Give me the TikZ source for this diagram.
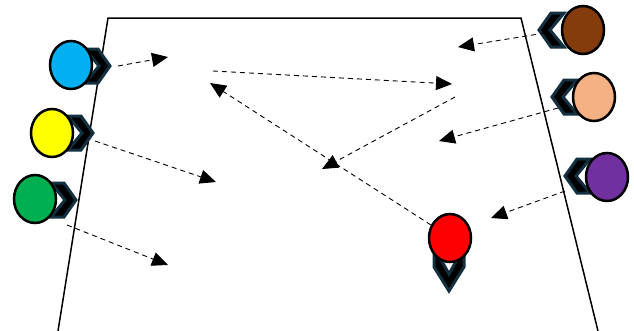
\documentclass[tikz,border=0pt]{standalone}
\usetikzlibrary{shapes.geometric,arrows.meta}
\definecolor{chevc}{HTML}{12303F}
\definecolor{pblue}{HTML}{00B0F0}
\definecolor{pyellow}{HTML}{FFFF00}
\definecolor{pgreen}{HTML}{00B050}
\definecolor{pbrown}{HTML}{843C0C}
\definecolor{psalmon}{HTML}{F4B183}
\definecolor{ppurple}{HTML}{7030A0}
\definecolor{pred}{HTML}{FF0000}
\begin{document}
\begin{tikzpicture}[x=1pt,y=-1pt,
  player/.style={ellipse, draw=black, line width=2.5pt, minimum width=42pt, minimum height=48pt, inner sep=0pt},
  run/.style={dashed, dash pattern=on 5pt off 4pt, line width=0.9pt, -{Triangle[length=16pt,width=14pt]}},
  chev/.pic={\draw[draw=chevc, line width=3pt, fill=black, line join=miter] (-25,-17) -- (-12,-17) -- (0,0) -- (-12,17) -- (-25,17) -- (-11,0) -- cycle;},
  chevlong/.pic={\draw[draw=chevc, line width=3pt, fill=black, line join=miter] (-44,-15) -- (-24,-15) -- (0,0) -- (-24,15) -- (-44,15) -- (-17,0) -- cycle;}]
\useasboundingbox (0,0) rectangle (634,330);
\draw[line width=1.5pt] (58,331) -- (108,18) -- (521,18) -- (598,331);
% chevrons
\pic at (110,66) {chev};
\pic at (93,133) {chev};
\pic at (76,200) {chev};
\pic[rotate=180] at (539,30) {chev};
\pic[rotate=180] at (552,97) {chev};
\pic[rotate=180] at (565,176) {chev};
\pic[rotate=-90] at (449,291) {chevlong};
% players
\node[player, fill=pblue] (blue) at (71,65) {};
\node[player, fill=pyellow] (yellow) at (52,133) {};
\node[player, fill=pgreen] (green) at (35,199) {};
\node[player, fill=pbrown] (brown) at (583,30) {};
\node[player, fill=psalmon] (salmon) at (594,97) {};
\node[player, fill=ppurple] (purple) at (607,177) {};
\node[player, fill=pred] (red) at (450,238) {};
% arrow end points
\coordinate (a1s) at (118,66); \coordinate (a1e) at (168,57);
\coordinate (p1s) at (213,71); \coordinate (p1e) at (452,84);
\coordinate (p2s) at (455,97); \coordinate (p2e) at (322,169);
\coordinate (r1s) at (431,225); \coordinate (r1e) at (210,83);
\coordinate (b1s) at (545,33); \coordinate (b1e) at (458,47);
\coordinate (s1s) at (558,108); \coordinate (s1e) at (439,141);
\coordinate (u1s) at (565,191); \coordinate (u1e) at (491,218);
\coordinate (y1s) at (95,141); \coordinate (y1e) at (216,182);
\coordinate (g1s) at (67,225); \coordinate (g1e) at (168,265);
\draw[run] (a1s) -- (a1e);
\draw[run] (p1s) -- (p1e);
\draw[run] (p2s) -- (p2e);
\draw[run] (r1s) -- (r1e);
\draw[run] (b1s) -- (b1e);
\draw[run] (s1s) -- (s1e);
\draw[run] (u1s) -- (u1e);
\draw[run] (y1s) -- (y1e);
\draw[run] (g1s) -- (g1e);
\end{tikzpicture}
\end{document}
